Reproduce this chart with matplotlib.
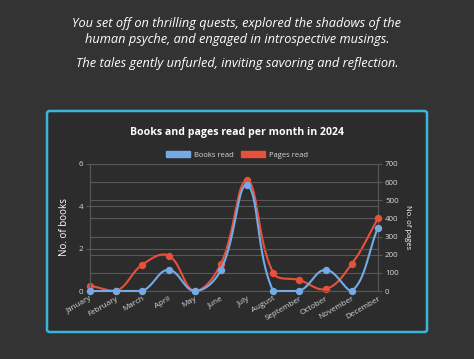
import numpy as np
import matplotlib
matplotlib.use("Agg")
import matplotlib.pyplot as plt
from matplotlib.patches import FancyBboxPatch, Patch

months = ["January", "February", "March", "April", "May", "June", "July",
          "August", "September", "October", "November", "December"]
books = [0, 0, 0, 1, 0, 1, 5, 0, 0, 1, 0, 3]
pages = [30, 0, 145, 195, 0, 150, 610, 100, 60, 10, 150, 400]

intro_lines = ["You set off on thrilling quests, explored the shadows of the",
               "human psyche, and engaged in introspective musings."]
intro_last = "The tales gently unfurled, inviting savoring and reflection."
title = "Books and pages read per month in 2024"

BG = "#333333"
PANEL = "#2c2c2c"
BORDER = "#3bb4dc"
BLUE = "#74aae6"
RED = "#e8503a"
GRID = "#585858"
TXT = "#d8d8d8"

plt.rcParams['font.family'] = ['Open Sans', 'DejaVu Sans']

W, H = 474, 359
fig = plt.figure(figsize=(W / 100, H / 100), dpi=100, facecolor=BG)

def fx(px):
    return px / W

def fy(py):
    return 1 - py / H

# framed panel
panel = FancyBboxPatch((fx(47), fy(332)), fx(380), fy(111) - fy(332),
                       boxstyle="round,pad=0,rounding_size=0.006",
                       transform=fig.transFigure, facecolor=PANEL,
                       edgecolor=BORDER, linewidth=1.8, zorder=-5)
fig.patches.append(panel)

# intro text
fig.text(0.5, fy(24), intro_lines[0], ha="center", va="center", color="white",
         fontsize=9.2, style="italic")
fig.text(0.5, fy(40), intro_lines[1], ha="center", va="center", color="white",
         fontsize=9.2, style="italic")
fig.text(0.5, fy(64), intro_last, ha="center", va="center", color="white",
         fontsize=9.2, style="italic")

fig.text(fx(237), fy(133), title, ha="center", va="center", color="white",
         fontsize=7.6, fontweight="bold")

ax = fig.add_axes([fx(90), fy(291), fx(378) - fx(90), fy(164) - fy(291)])
ax2 = ax.twinx()
ax.set_zorder(2)
ax2.set_zorder(1)
ax.patch.set_visible(False)
ax2.patch.set_visible(False)

x = np.arange(len(months))
ax.set_xlim(0, len(months) - 1)
ax.set_ylim(0, 6)
ax2.set_ylim(0, 700)
ax.set_yticks([0, 2, 4, 6])
ax2.set_yticks(range(0, 701, 100))
ax.set_xticks(x)
ax.set_xticklabels(months, rotation=30, ha="right", va="top",
                   rotation_mode="anchor")

for a in (ax, ax2):
    for s in a.spines.values():
        s.set_visible(False)
    a.grid(axis="y", color=GRID, linewidth=0.8)
    a.tick_params(colors=GRID, labelcolor=TXT, labelsize=5.8, length=3,
                  width=0.8, pad=2)
ax.tick_params(axis="x", length=0, pad=3)
ax2.spines["right"].set_visible(True)
ax2.spines["right"].set_color(GRID)
ax.spines["left"].set_visible(True)
ax.spines["left"].set_color(GRID)
ax.spines["bottom"].set_visible(True)
ax.spines["bottom"].set_color(GRID)
ax.set_axisbelow(True)

ax.set_ylabel("No. of books", color="white", fontsize=7, labelpad=6)
ax2.set_ylabel("No. of pages", color="white", fontsize=5.5, rotation=-90,
               labelpad=9)


def bezier_line(a, xs, ys, tension=0.4, n=40):
    pts = a.transData.transform(np.column_stack([xs, ys]).astype(float))
    bb = a.bbox
    m = len(pts)
    cprev = np.zeros_like(pts)
    cnext = np.zeros_like(pts)
    for i in range(m):
        cur = pts[i]
        prv = pts[i - 1] if i > 0 else cur
        nxt = pts[i + 1] if i < m - 1 else cur
        d01 = np.hypot(*(cur - prv))
        d12 = np.hypot(*(nxt - cur))
        tot = d01 + d12
        s01 = d01 / tot if tot else 0
        s12 = d12 / tot if tot else 0
        cprev[i] = cur - tension * s01 * (nxt - prv)
        cnext[i] = cur + tension * s12 * (nxt - prv)
    for c in (cprev, cnext):
        c[:, 0] = np.clip(c[:, 0], bb.x0, bb.x1)
        c[:, 1] = np.clip(c[:, 1], bb.y0, bb.y1)
    t = np.linspace(0, 1, n)[:, None]
    segs = []
    for i in range(m - 1):
        p0, p1, p2, p3 = pts[i], cnext[i], cprev[i + 1], pts[i + 1]
        seg = ((1 - t) ** 3) * p0 + 3 * ((1 - t) ** 2) * t * p1 \
            + 3 * (1 - t) * t ** 2 * p2 + t ** 3 * p3
        segs.append(seg if i == 0 else seg[1:])
    curve = np.vstack(segs)
    return a.transData.inverted().transform(curve)

red_curve = bezier_line(ax2, x, pages)
ax2.plot(red_curve[:, 0], red_curve[:, 1], color=RED, linewidth=1.5,
         clip_on=False, zorder=3)
ax2.plot(x, pages, "o", color=RED, markersize=4.3, clip_on=False, zorder=4)

blue_curve = bezier_line(ax, x, books)
ax.plot(blue_curve[:, 0], blue_curve[:, 1], color=BLUE, linewidth=1.5,
        clip_on=False, zorder=3)
ax.plot(x, books, "o", color=BLUE, markersize=4.3, clip_on=False, zorder=4)

handles = [Patch(facecolor=BLUE, edgecolor=BLUE, label="Books read"),
           Patch(facecolor=RED, edgecolor=RED, label="Pages read")]
fig.legend(handles=handles, loc="center", bbox_to_anchor=(fx(237), fy(155)),
           ncol=2, frameon=False, fontsize=5.5, labelcolor=TXT,
           handlelength=3.2, handleheight=0.9, handletextpad=0.5,
           columnspacing=0.9, borderpad=0)

fig.savefig("out.png", dpi=100, facecolor=BG)
